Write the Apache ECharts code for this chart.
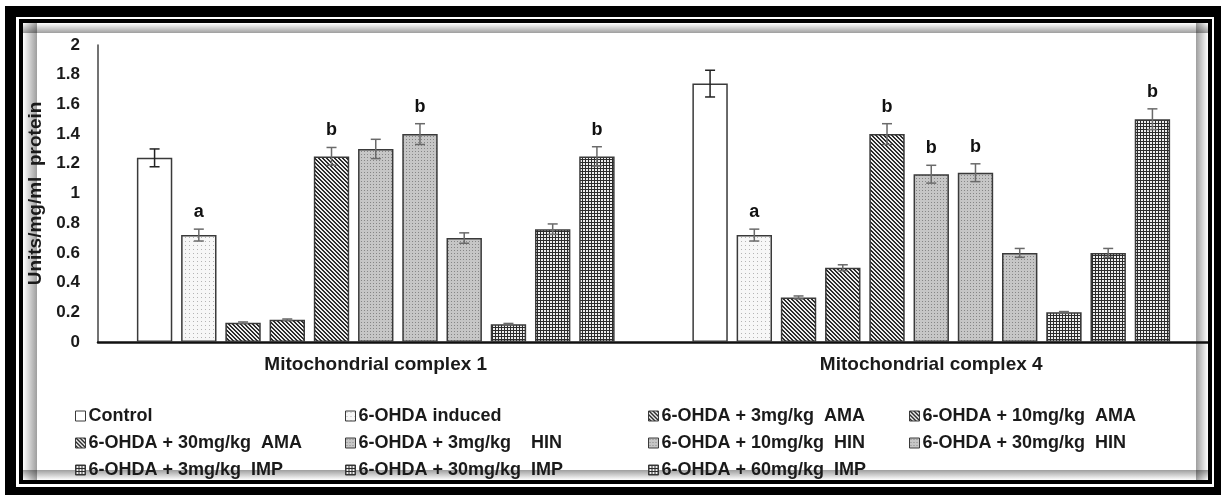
<!DOCTYPE html>
<html>
<head>
<meta charset="utf-8">
<script src="https://cdn.jsdelivr.net/npm/echarts@6/dist/echarts.min.js"></script>
<style>
html,body{margin:0;padding:0;background:#fff;}
#chart{width:1221px;height:495px;}
</style>
</head>
<body>
<div id="chart"></div>
<script>
// ---- data ----
const categories = ['Mitochondrial complex 1', 'Mitochondrial complex 4'];
const seriesNames = [
  'Control',
  '6-OHDA induced',
  '6-OHDA + 3mg/kg  AMA',
  '6-OHDA + 10mg/kg  AMA',
  '6-OHDA + 30mg/kg  AMA',
  '6-OHDA + 3mg/kg    HIN',
  '6-OHDA + 10mg/kg  HIN',
  '6-OHDA + 30mg/kg  HIN',
  '6-OHDA + 3mg/kg  IMP',
  '6-OHDA + 30mg/kg  IMP',
  '6-OHDA + 60mg/kg  IMP'
];
const complex1 = [1.24, 0.72, 0.13, 0.15, 1.25, 1.30, 1.40, 0.70, 0.12, 0.76, 1.25];
const complex4 = [1.74, 0.72, 0.30, 0.50, 1.40, 1.13, 1.14, 0.60, 0.20, 0.60, 1.50];
const err1 = [0.06, 0.04, 0.005, 0.005, 0.06, 0.065, 0.07, 0.035, 0.005, 0.035, 0.065];
const err4 = [0.09, 0.04, 0.01, 0.02, 0.07, 0.06, 0.06, 0.03, 0.005, 0.03, 0.07];
const sig1 = ['', 'a', '', '', 'b', '', 'b', '', '', '', 'b'];
const sig4 = ['', 'a', '', '', 'b', 'b', 'b', '', '', '', 'b'];
const yTicks = [0, 0.2, 0.4, 0.6, 0.8, 1, 1.2, 1.4, 1.6, 1.8, 2];
const legendColumns = [
  ['Control', '6-OHDA + 30mg/kg  AMA', '6-OHDA + 3mg/kg  IMP'],
  ['6-OHDA induced', '6-OHDA + 3mg/kg    HIN', '6-OHDA + 30mg/kg  IMP'],
  ['6-OHDA + 3mg/kg  AMA', '6-OHDA + 10mg/kg  HIN', '6-OHDA + 60mg/kg  IMP'],
  ['6-OHDA + 10mg/kg  AMA', '6-OHDA + 30mg/kg  HIN']
];

// ---- fill textures ----
function tile(size, fn) {
  const c = document.createElement('canvas');
  c.width = size; c.height = size;
  const ctx = c.getContext('2d');
  const img = ctx.createImageData(size, size);
  for (let y = 0; y < size; y++) for (let x = 0; x < size; x++) {
    const v = fn(x, y), i = (y * size + x) * 4;
    img.data[i] = v; img.data[i + 1] = v; img.data[i + 2] = v; img.data[i + 3] = 255;
  }
  ctx.putImageData(img, 0, 0);
  return { image: c, repeat: 'repeat' };
}
const fills = {
  white: '#ffffff',
  dots: tile(4, (x, y) => (x === 1 && y === 1) ? 0xb4 : 0xf7),
  ama: tile(4, (x, y) => (((x - y + 8) % 4) < 2) ? 0x2c : 0xee),
  hin: tile(3, (x, y) => (x === 1 && y === 1) ? 0x86 : 0xc6),
  imp: tile(3, (x, y) => (x === 0 || y === 0) ? 0x2c : 0xee)
};
const fillKind = ['white', 'dots', 'ama', 'ama', 'ama', 'hin', 'hin', 'hin', 'imp', 'imp', 'imp'];

const N = seriesNames.length;
const CAT_GAP = 0.14, BAR_GAP = 0.25;

const barSeries = seriesNames.map((name, s) => ({
  name: name,
  type: 'bar',
  data: [complex1[s], complex4[s]],
  barGap: (BAR_GAP * 100) + '%',
  barCategoryGap: (CAT_GAP * 100) + '%',
  itemStyle: { color: fills[fillKind[s]], borderColor: '#3a3a3a', borderWidth: 1.5 },
  emphasis: { disabled: true },
  silent: true
}));

const errData = [];
[[complex1, err1, sig1], [complex4, err4, sig4]].forEach((grp, c) => {
  for (let s = 0; s < N; s++) errData.push([c, s, grp[0][s], grp[1][s], grp[2][s]]);
});

const errSeries = {
  type: 'custom',
  name: 'err',
  z: 10,
  silent: true,
  data: errData,
  encode: { x: 0, y: 2 },
  renderItem: function (params, api) {
    const c = api.value(0), s = api.value(1), v = api.value(2), e = api.value(3);
    const sig = errData[params.dataIndex][4];
    const band = api.size([1, 0])[0];
    const groupW = band * (1 - CAT_GAP);
    const w = groupW / (N + (N - 1) * BAR_GAP);
    const center = api.coord([c, 0])[0];
    const x = center - groupW / 2 + w / 2 + s * w * (1 + BAR_GAP);
    const yTop = api.coord([c, v + e])[1];
    const yBot = api.coord([c, v - e])[1];
    const col = s === 0 ? '#222' : '#6a6a6a';
    const cap = 5;
    const st = { stroke: col, lineWidth: 1.5 };
    const children = [
      { type: 'line', shape: { x1: x, y1: yTop, x2: x, y2: yBot }, style: st },
      { type: 'line', shape: { x1: x - cap, y1: yTop, x2: x + cap, y2: yTop }, style: st },
      { type: 'line', shape: { x1: x - cap, y1: yBot, x2: x + cap, y2: yBot }, style: st }
    ];
    if (sig) {
      children.push({
        type: 'text',
        style: {
          x: x, y: yTop - 8, text: sig, align: 'center', verticalAlign: 'bottom',
          font: 'bold 18px "Liberation Sans", Arial, sans-serif', fill: '#111'
        }
      });
    }
    return { type: 'group', children: children };
  }
};

const legendLeft = [75, 345, 648, 909];
const legends = legendColumns.map((col, i) => ({
  show: true,
  orient: 'vertical',
  left: legendLeft[i],
  top: 407,
  data: col,
  icon: 'rect',
  itemWidth: 10,
  itemHeight: 10,
  itemGap: 9,
  selectedMode: false,
  padding: 0,
  itemStyle: { borderColor: '#3a3a3a', borderWidth: 1 },
  textStyle: {
    fontFamily: '"Liberation Sans", Arial, sans-serif',
    fontWeight: 'bold', fontSize: 18, color: '#1a1a1a', lineHeight: 18,
    padding: [0, 0, 0, -2]
  }
}));

function grad(x, y, w, h, dir) {
  const g = { type: 'linear', x: 0, y: 0, x2: 0, y2: 0, colorStops: [
    { offset: 0, color: 'rgba(0,0,0,0.38)' }, { offset: 1, color: 'rgba(0,0,0,0)' }] };
  if (dir === 'r') { g.x2 = 1; }
  if (dir === 'l') { g.x = 1; }
  if (dir === 'd') { g.y2 = 1; }
  if (dir === 'u') { g.y = 1; }
  return { type: 'rect', shape: { x: x, y: y, width: w, height: h }, style: { fill: g }, silent: true, z: -1 };
}

const option = {
  animation: false,
  backgroundColor: '#ffffff',
  textStyle: { fontFamily: '"Liberation Sans", Arial, sans-serif' },
  legend: legends,
  grid: { left: 98, right: 12, top: 45, bottom: 153, containLabel: false },
  xAxis: {
    type: 'category',
    data: categories,
    axisLine: { lineStyle: { color: '#111', width: 2.5 } },
    axisTick: { show: false },
    axisLabel: { fontWeight: 'bold', fontSize: 19, color: '#1a1a1a', margin: 13 }
  },
  yAxis: {
    type: 'value',
    min: yTicks[0],
    max: yTicks[yTicks.length - 1],
    interval: yTicks[1] - yTicks[0],
    name: 'Units/mg/ml  protein',
    nameLocation: 'middle',
    nameGap: 44,
    nameTextStyle: { fontWeight: 'bold', fontSize: 19, color: '#1a1a1a' },
    axisLine: { show: true, lineStyle: { color: '#444', width: 1.5 } },
    axisTick: { show: false },
    splitLine: { show: false },
    axisLabel: { fontWeight: 'bold', fontSize: 17, color: '#1a1a1a', margin: 18 }
  },
  graphic: [
    grad(23, 23, 14, 457, 'l'),
    grad(23, 23, 1185, 10, 'u'),
    grad(1196, 23, 12, 457, 'r'),
    grad(23, 470, 1185, 10, 'd'),
    { type: 'rect', shape: { x: 10.5, y: 11.5, width: 1209, height: 481 }, style: { fill: null, stroke: '#000', lineWidth: 11 }, silent: true, z: 100 },
    { type: 'rect', shape: { x: 21, y: 21, width: 1189, height: 461 }, style: { fill: null, stroke: '#000', lineWidth: 4 }, silent: true, z: 100 }
  ],
  series: barSeries.concat([errSeries])
};

const chart = echarts.init(document.getElementById('chart'), null, { renderer: 'canvas' });
chart.setOption(option);
</script>
</body>
</html>
